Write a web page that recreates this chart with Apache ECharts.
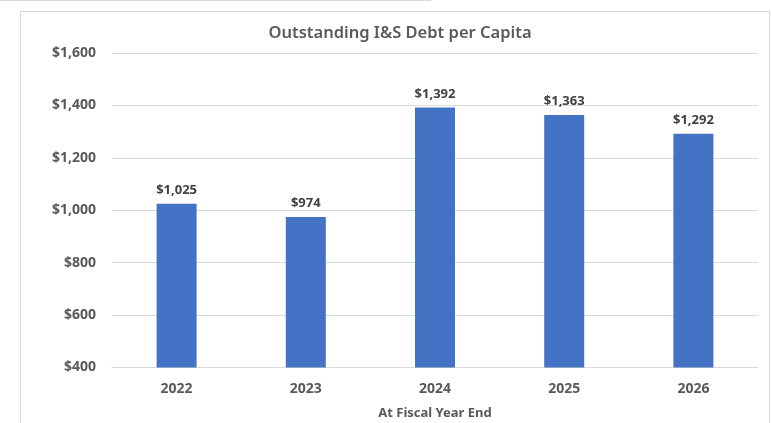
<!DOCTYPE html>
<html>
<head>
<meta charset="utf-8">
<script src="https://cdn.jsdelivr.net/npm/echarts@6/dist/echarts.min.js"></script>
<style>
  html, body { margin: 0; padding: 0; background: #fff; }
  #chart { width: 771px; height: 423px; }
</style>
</head>
<body>
<div id="chart"></div>
<script>
// Fiscal years and outstanding interest & sinking debt per capita
const years = ['2022', '2023', '2024', '2025', '2026'];
const debtPerCapita = [1025, 974, 1392, 1363, 1292];
const yTicks = { min: 400, max: 1600, step: 200 };

const textColor = '#595959';
const fontFamily = '"Noto Sans", "Open Sans", sans-serif';

function dollars(v) {
  return '$' + Number(v).toLocaleString('en-US');
}

const chart = echarts.init(document.getElementById('chart'));
chart.setOption({
  animation: false,
  title: {
    text: 'Outstanding I&S Debt per Capita',
    left: 395,
    top: 20,
    textAlign: 'center',
    textStyle: { color: textColor, fontFamily, fontSize: 16.5, fontWeight: 600 }
  },
  grid: { left: 112, right: 13, top: 53, bottom: 55.5, outerBoundsMode: 'none', containLabel: false },
  xAxis: {
    type: 'category',
    data: years,
    name: 'At Fiscal Year End',
    nameLocation: 'middle',
    nameGap: 39,
    nameTextStyle: { color: textColor, fontFamily, fontSize: 13, fontWeight: 'bold' },
    axisLine: { lineStyle: { color: '#d9d9d9', width: 1 } },
    axisTick: { show: false },
    axisLabel: { color: textColor, fontFamily, fontSize: 14, fontWeight: 'bold', margin: 15 }
  },
  yAxis: {
    type: 'value',
    min: yTicks.min,
    max: yTicks.max,
    interval: yTicks.step,
    axisLine: { show: false },
    axisTick: { show: false },
    splitLine: { lineStyle: { color: '#d9d9d9', width: 1 } },
    axisLabel: { color: textColor, fontFamily, fontSize: 14, fontWeight: 'bold', margin: 16, formatter: dollars }
  },
  series: [{
    type: 'bar',
    data: debtPerCapita,
    barWidth: 40,
    itemStyle: { color: '#4472C4' },
    label: {
      show: true,
      position: 'top',
      distance: 7,
      color: '#404040',
      fontFamily,
      fontSize: 13,
      fontWeight: 'bold',
      formatter: p => dollars(p.value)
    }
  }],
  graphic: [
    {
      type: 'rect',
      shape: { x: 20.5, y: 11.5, width: 749, height: 430 },
      style: { fill: null, stroke: '#d9d9d9', lineWidth: 1 },
      silent: true
    },
    {
      type: 'line',
      shape: { x1: 0, y1: 0.5, x2: 431, y2: 0.5 },
      style: { stroke: '#d9d9d9', lineWidth: 1 },
      silent: true
    }
  ]
});
</script>
</body>
</html>
